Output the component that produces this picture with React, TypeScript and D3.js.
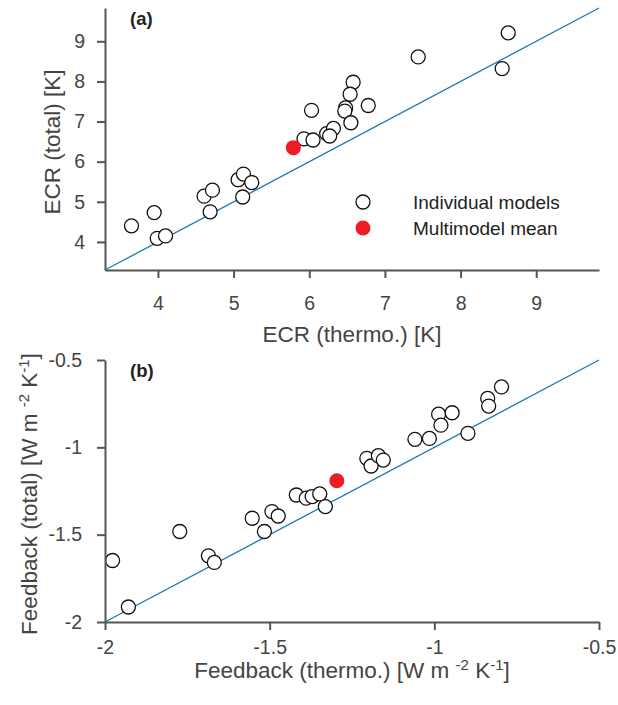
import * as d3 from "d3";
import { useEffect, useRef } from "react";

const W = 618;
const H = 705;
const font = "'Liberation Sans', Arial, Helvetica, sans-serif";
const axisColor = "#555";
const textColor = "#444";
const lineColor = "#1f78b4";
const meanColor = "#ee1c25";

// panel (a): ECR
const ecrThermo = [3.65, 3.95, 3.99, 4.1, 4.61, 4.72, 4.69, 5.06, 5.13, 5.24, 5.12, 5.93, 6.05, 6.03, 6.23, 6.32, 6.27, 6.58, 6.54, 6.48, 6.47, 6.55, 6.78, 7.44, 8.63, 8.55];
const ecrTotal = [4.4, 4.73, 4.09, 4.15, 5.14, 5.29, 4.75, 5.55, 5.69, 5.48, 5.12, 6.57, 6.54, 7.28, 6.7, 6.83, 6.64, 7.98, 7.68, 7.34, 7.26, 6.97, 7.4, 8.61, 9.21, 8.32];
const ecrMean = [5.79, 6.35];
const ecrDomain = [3.3, 9.83];
const ecrTicks = [4, 5, 6, 7, 8, 9];

// panel (b): feedback
const fbThermo = [-1.977, -1.929, -1.773, -1.686, -1.668, -1.553, -1.516, -1.493, -1.474, -1.419, -1.389, -1.371, -1.348, -1.331, -1.205, -1.192, -1.17, -1.155, -1.059, -1.015, -0.987, -0.98, -0.946, -0.898, -0.838, -0.835, -0.796];
const fbTotal = [-1.648, -1.914, -1.482, -1.621, -1.659, -1.406, -1.482, -1.368, -1.393, -1.273, -1.291, -1.282, -1.267, -1.339, -1.063, -1.107, -1.048, -1.073, -0.954, -0.949, -0.81, -0.873, -0.802, -0.92, -0.72, -0.764, -0.654];
const fbMean = [-1.296, -1.191];
const fbDomain = [-2, -0.5];
const fbTicks = [-2, -1.5, -1, -0.5];

const legendLabels = ["Individual models", "Multimodel mean"];

const left = 105;
const right = 599;

type PanelProps = {
  top: number;
  bottom: number;
  domain: number[];
  ticks: number[];
  xs: number[];
  ys: number[];
  mean: number[];
  tag: string;
  xLabel: React.ReactNode;
  yLabel: React.ReactNode;
  yLabelX: number;
  xPad: number;
  yPad: number;
  xLabelOffset: number;
  legend?: boolean;
};

const Panel = ({ top, bottom, domain, ticks, xs, ys, mean, tag, xLabel, yLabel, yLabelX, xPad, yPad, xLabelOffset, legend }: PanelProps) => {
  const gx = useRef<SVGGElement>(null);
  const gy = useRef<SVGGElement>(null);
  const x = d3.scaleLinear(domain, [left, right]);
  const y = d3.scaleLinear(domain, [bottom, top]);
  const fmt = (d: any) => String(d);

  useEffect(() => {
    const style = (g: any) => {
      g.select(".domain").attr("stroke", axisColor).attr("stroke-width", 2);
      g.selectAll(".tick line").attr("stroke", axisColor).attr("stroke-width", 2);
      g.selectAll(".tick text").attr("fill", textColor).attr("font-size", 19.5).attr("font-family", font);
    };
    d3.select(gx.current)
      .call(d3.axisBottom(x).tickValues(ticks).tickFormat(fmt).tickSize(8).tickSizeOuter(0).tickPadding(xPad))
      .call(style);
    d3.select(gy.current)
      .call(d3.axisLeft(y).tickValues(ticks).tickFormat(fmt).tickSize(8).tickSizeOuter(0).tickPadding(yPad))
      .call(style);
  }, [gx, gy]);

  const line = d3.line<number>((d) => x(d), (d) => y(d));

  return (
    <g>
      <path d={line(domain) as string} fill="none" stroke={lineColor} strokeWidth={1.3} />
      <g fill="white" stroke="#111" strokeWidth={1.3}>
        {xs.map((d, i) => (
          <circle key={i} cx={x(d)} cy={y(ys[i])} r={7} />
        ))}
      </g>
      <circle cx={x(mean[0])} cy={y(mean[1])} r={7.5} fill={meanColor} />
      <g ref={gx} transform={`translate(0,${bottom})`} />
      <g ref={gy} transform={`translate(${left},0)`} />
      <text x={130} y={top + 17} fontFamily={font} fontWeight="bold" fontSize={18.5} fill="#222">
        {tag}
      </text>
      <text x={(left + right) / 2} y={bottom + xLabelOffset} textAnchor="middle" fontFamily={font} fontSize={22.5} fill={textColor}>
        {xLabel}
      </text>
      <text
        transform={`translate(${yLabelX},${(top + bottom) / 2 + 3}) rotate(-90)`}
        textAnchor="middle"
        fontFamily={font}
        fontSize={22.5}
        fill={textColor}
      >
        {yLabel}
      </text>
      {legend && (
        <g fontFamily={font} fontSize={19} fill="#222">
          <circle cx={363} cy={202} r={7} fill="white" stroke="#111" strokeWidth={1.3} />
          <circle cx={363} cy={228} r={7.5} fill={meanColor} />
          <text x={413} y={209}>{legendLabels[0]}</text>
          <text x={413} y={235}>{legendLabels[1]}</text>
        </g>
      )}
    </g>
  );
};

const units = (name: string) => (
  <>
    {name} [W m <tspan dy={-8} fontSize={15}>-2</tspan>
    <tspan dy={8}> K</tspan>
    <tspan dy={-8} fontSize={15}>-1</tspan>
    <tspan dy={8}>]</tspan>
  </>
);

export default function App() {
  return (
    <svg width={W} height={H} style={{ position: "absolute", left: 0, top: 0, background: "white" }}>
      <Panel
        top={8}
        bottom={270}
        domain={ecrDomain}
        ticks={ecrTicks}
        xs={ecrThermo}
        ys={ecrTotal}
        mean={ecrMean}
        tag="(a)"
        xLabel="ECR (thermo.) [K]"
        yLabel="ECR (total) [K]"
        yLabelX={60}
        xPad={18}
        yPad={12}
        xLabelOffset={72}
        legend
      />
      <Panel
        top={360}
        bottom={622}
        domain={fbDomain}
        ticks={fbTicks}
        xs={fbThermo}
        ys={fbTotal}
        mean={fbMean}
        tag="(b)"
        xLabel={units("Feedback (thermo.)")}
        yLabel={units("Feedback (total)")}
        yLabelX={37}
        xPad={10}
        yPad={15}
        xLabelOffset={56}
      />
    </svg>
  );
}
